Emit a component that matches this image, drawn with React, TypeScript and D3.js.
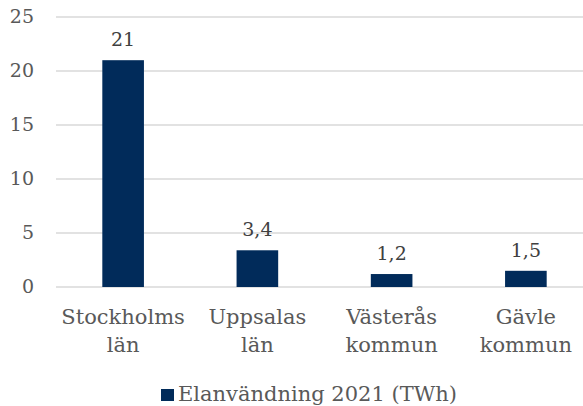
import React, { useRef, useEffect } from 'react';
import * as d3 from 'd3';

const categories = [['Stockholms', 'län'], ['Uppsalas', 'län'], ['Västerås', 'kommun'], ['Gävle', 'kommun']];
const values = [21, 3.4, 1.2, 1.5];
const valueLabels = ['21', '3,4', '1,2', '1,5'];
const yTicks = [0, 5, 10, 15, 20, 25];
const seriesName = 'Elanvändning 2021 (TWh)';

const W = 583;
const H = 406;
const FONT = '"DejaVu Serif", Georgia, serif';

const App = () => {
  const ref = useRef<SVGSVGElement>(null);

  useEffect(() => {
    if (!ref.current) return;
    const svg = d3.select(ref.current);
    svg.selectAll('*').remove();

    const left = 56, right = 593, top = 17, bottom = 287;

    const x = d3.scaleBand<number>()
      .domain(values.map((_, i) => i))
      .range([left, right])
      .paddingInner(0.69)
      .paddingOuter(0.345);

    const y = d3.scaleLinear().domain([0, 25]).range([bottom, top]);

    // gridlines
    svg.append('g')
      .selectAll('line')
      .data(yTicks)
      .join('line')
      .attr('x1', left)
      .attr('x2', right)
      .attr('y1', d => y(d))
      .attr('y2', d => y(d))
      .attr('stroke', '#d9d9d9')
      .attr('stroke-width', 1.3);

    // y tick labels
    svg.append('g')
      .selectAll('text')
      .data(yTicks)
      .join('text')
      .attr('x', 34)
      .attr('y', d => y(d) + 6)
      .attr('text-anchor', 'end')
      .attr('font-family', FONT)
      .attr('font-size', 19)
      .attr('fill', '#595959')
      .text(d => d);

    // bars
    svg.append('g')
      .selectAll('rect')
      .data(values)
      .join('rect')
      .attr('x', (_, i) => x(i)!)
      .attr('y', d => y(d))
      .attr('width', x.bandwidth())
      .attr('height', d => bottom - y(d))
      .attr('fill', '#012b5a');

    // value labels
    svg.append('g')
      .selectAll('text')
      .data(values)
      .join('text')
      .attr('x', (_, i) => x(i)! + x.bandwidth() / 2)
      .attr('y', d => y(d) - 14)
      .attr('text-anchor', 'middle')
      .attr('font-family', FONT)
      .attr('font-size', 19)
      .attr('fill', '#404040')
      .text((_, i) => valueLabels[i]);

    // category labels
    const cat = svg.append('g')
      .selectAll('text')
      .data(categories)
      .join('text')
      .attr('x', (_, i) => x(i)! + x.bandwidth() / 2)
      .attr('y', 324)
      .attr('text-anchor', 'middle')
      .attr('font-family', FONT)
      .attr('font-size', 21)
      .attr('fill', '#595959');
    cat.selectAll('tspan')
      .data(d => d)
      .join('tspan')
      .attr('x', function () { return (this.parentNode as SVGTextElement).getAttribute('x'); })
      .attr('dy', (_, j) => (j === 0 ? 0 : 28))
      .text(d => d);

    // legend
    const lg = svg.append('g');
    lg.append('rect')
      .attr('x', 161)
      .attr('y', 389)
      .attr('width', 13)
      .attr('height', 12)
      .attr('fill', '#012b5a');
    lg.append('text')
      .attr('x', 178)
      .attr('y', 401)
      .attr('font-family', FONT)
      .attr('font-size', 21)
      .attr('fill', '#595959')
      .text(seriesName);
  }, []);

  return (
    <svg
      ref={ref}
      width={W}
      height={H}
      style={{ position: 'absolute', left: 0, top: 0, background: '#fff' }}
    />
  );
};

export default App;
